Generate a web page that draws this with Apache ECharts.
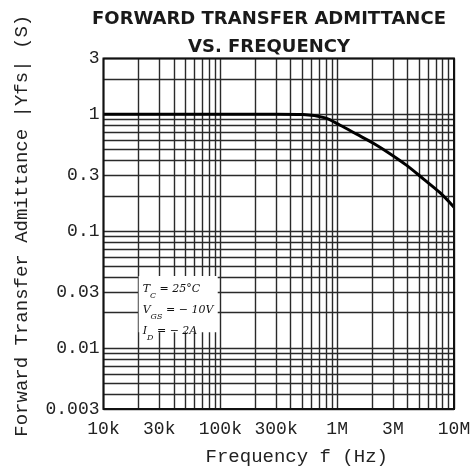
<!DOCTYPE html>
<html>
<head>
<meta charset="utf-8">
<script src="https://cdn.jsdelivr.net/npm/echarts@6/dist/echarts.min.js"></script>
<style>html,body{margin:0;padding:0;background:#fff;}#c{width:475px;height:471px;}</style>
</head>
<body>
<div id="c"></div>
<script>
// ---- data ----
const freqHz = [1e4, 1e5, 3e5, 5.1e5, 7.9e5, 1.06e6, 1.47e6, 2.04e6, 2.83e6, 3.94e6, 5.46e6, 7.59e6, 1e7];
const yfs    = [1.0, 1.0, 1.0, 0.995, 0.93, 0.805, 0.675, 0.565, 0.46, 0.365, 0.28, 0.213, 0.16];

const xTickValues = [1e4, 3e4, 1e5, 3e5, 1e6, 3e6, 1e7];
const xTickLabels = ['10k', '30k', '100k', '300k', '1M', '3M', '10M'];
const yTickValues = [0.003, 0.01, 0.03, 0.1, 0.3, 1, 3];
const yTickLabels = ['0.003', '0.01', '0.03', '0.1', '0.3', '1', '3'];

const xMin = 1e4, xMax = 1e7, yMin = 0.003, yMax = 3;

const titleText = 'FORWARD TRANSFER ADMITTANCE\nVS. FREQUENCY';
const xName = 'Frequency f (Hz)';
const yName = 'Forward Transfer Admittance |Yfs| (S)';

// ---- log grid values (1..9 per decade) ----
function logGrid(lo, hi) {
  const out = [];
  for (let e = -4; e <= 8; e++) {
    for (let m = 1; m <= 9; m++) {
      const v = Number((m * Math.pow(10, e)).toPrecision(6));
      if (v >= lo * 0.9999 && v <= hi * 1.0001) out.push(v);
    }
  }
  return out;
}
const near = (a, b) => Math.abs(a - b) / b < 1e-6;

const mono = 'Liberation Mono';
const gridColor = '#2a2a2a';

const xLines = logGrid(xMin, xMax).map(v => {
  const i = xTickValues.findIndex(t => near(v, t));
  const item = { xAxis: v };
  if (i >= 0) item.label = { show: true, formatter: xTickLabels[i] };
  return item;
});
const yLines = logGrid(yMin, yMax).map(v => {
  const i = yTickValues.findIndex(t => near(v, t));
  const item = { yAxis: v };
  if (i >= 0) item.label = { show: true, formatter: yTickLabels[i] };
  return item;
});

const chart = echarts.init(document.getElementById('c'), null, { renderer: 'canvas' });
chart.setOption({
  animation: false,
  backgroundColor: '#fff',
  title: {
    text: titleText,
    left: 264, top: 0, textAlign: 'center',
    textStyle: { fontFamily: 'DejaVu Sans', fontWeight: 'bold', fontSize: 18, lineHeight: 28, color: '#1a1a1a' }
  },
  grid: { left: 103.5, right: 21, top: 58.5, bottom: 60, show: true, borderColor: '#111', borderWidth: 2, backgroundColor: 'transparent', z: 6 },
  xAxis: {
    type: 'log', logBase: 10, min: xMin, max: xMax,
    name: xName, nameLocation: 'middle', nameGap: 38,
    nameTextStyle: { fontFamily: mono, fontSize: 19, color: '#222', padding: [0, 0, 0, 36] },
    axisLine: { show: false }, axisTick: { show: false }, axisLabel: { show: false }, splitLine: { show: false }
  },
  yAxis: {
    type: 'log', logBase: 10, min: yMin, max: yMax,
    name: yName, nameLocation: 'middle', nameGap: 72, nameRotate: 90,
    nameTextStyle: { fontFamily: mono, fontSize: 19, color: '#222', padding: [0, 0, 0, 16] },
    axisLine: { show: false }, axisTick: { show: false }, axisLabel: { show: false }, splitLine: { show: false }
  },
  series: [
    {
      type: 'line', data: [], z: 1, silent: true,
      markLine: {
        z: 1, precision: 8,
        silent: true, symbol: 'none', animation: false,
        lineStyle: { color: gridColor, width: 1.4, type: 'solid' },
        label: { show: false, position: 'start', fontFamily: mono, fontSize: 18, color: '#222', distance: 11 },
        emphasis: { disabled: true },
        data: xLines
      }
    },
    {
      type: 'line', data: [], z: 1, silent: true,
      markLine: {
        z: 1, precision: 8,
        silent: true, symbol: 'none', animation: false,
        lineStyle: { color: gridColor, width: 1.4, type: 'solid' },
        label: { show: false, position: 'start', fontFamily: mono, fontSize: 18, color: '#222', distance: 4 },
        emphasis: { disabled: true },
        data: yLines
      }
    },
    {
      type: 'line', data: [], z: 4, silent: true,
      markArea: {
        z: 4, silent: true,
        itemStyle: { color: '#fff', opacity: 1 },
        emphasis: { disabled: true },
        label: {
          show: true, position: 'insideLeft', distance: 3, offset: [1, 6],
          fontFamily: 'DejaVu Serif', fontStyle: 'italic', fontSize: 11, color: '#111', lineHeight: 21,
          formatter: '{m|T}{s|C}{m| = 25°C}\n{m|V}{s|GS}{m| = − 10V}\n{m|I}{s|D}{m| = − 2A}',
          rich: {
            m: { fontFamily: 'DejaVu Serif', fontStyle: 'italic', fontSize: 11, color: '#111', lineHeight: 21 },
            s: { fontFamily: 'DejaVu Serif', fontStyle: 'italic', fontSize: 8, color: '#111', lineHeight: 21, verticalAlign: 'bottom' }
          }
        },
        data: [[{ xAxis: 2.0e4, yAxis: 0.0413 }, { xAxis: 9.5e4, yAxis: 0.0136 }]]
      }
    },
    {
      type: 'line', z: 5, silent: true,
      data: freqHz.map((f, i) => [f, yfs[i]]),
      symbol: 'none', smooth: 0.3,
      lineStyle: { color: '#000', width: 3 }
    }
  ]
});
</script>
</body>
</html>
